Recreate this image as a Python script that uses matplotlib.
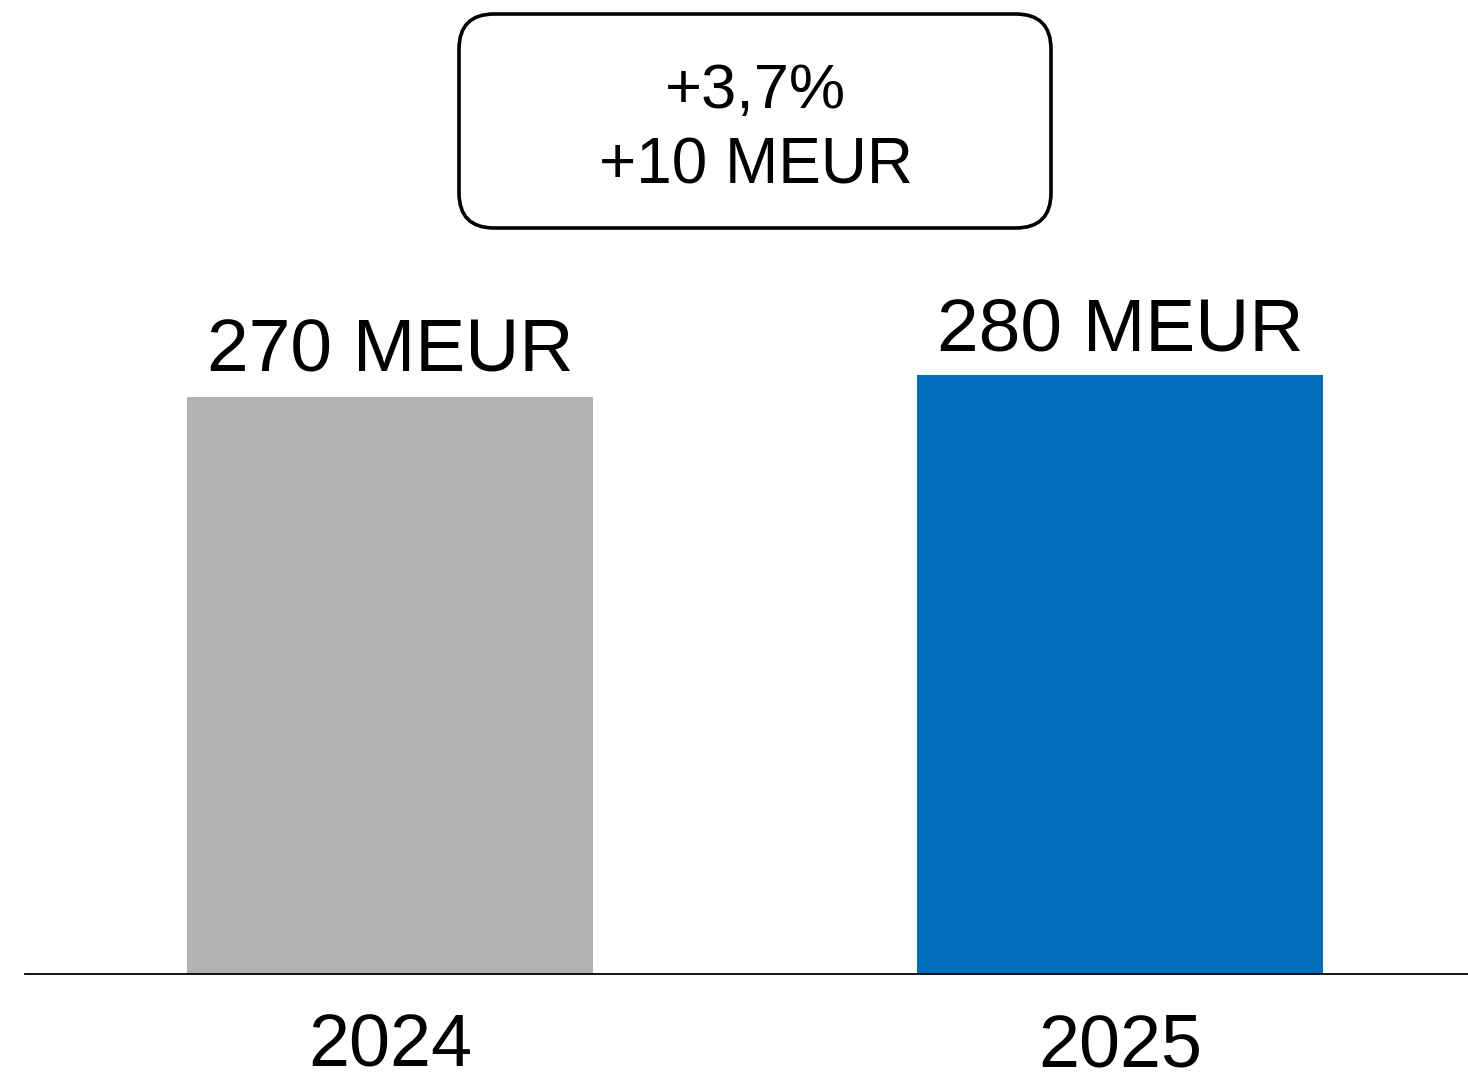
import matplotlib
matplotlib.use("Agg")
import matplotlib.pyplot as plt
from matplotlib.patches import FancyBboxPatch

years = ["2024", "2025"]
values = [270, 280]
value_labels = ["270 MEUR", "280 MEUR"]
colors = ["#B2B2B2", "#006EBA"]
change_lines = ["+3,7%", "+10 MEUR"]

plt.rcParams['font.family'] = ['Liberation Sans', 'DejaVu Sans']

W, H = 1468, 1079
fig = plt.figure(figsize=(W / 100, H / 100), dpi=100)
ax = fig.add_axes([25 / W, (H - 974) / H, (W - 25) / W, 974 / H])

x = list(range(len(years)))
ax.bar(x, values, width=406 / 730, color=colors)
ax.set_xlim(-0.5, 1 + 348 / 730)
ax.set_ylim(0, 974 / 2.138)

for xi, v, lab in zip(x, values, value_labels):
    ax.annotate(lab, (xi, v), xytext=(0, 18), textcoords="offset points",
                ha="center", va="baseline", fontsize=54, color="black")

ax.set_xticks(x)
ax.set_xticklabels(years, fontsize=53)
ax.tick_params(axis="x", length=0, pad=28)
ax.set_yticks([])
for s in ["top", "right", "left"]:
    ax.spines[s].set_visible(False)
ax.spines["bottom"].set_linewidth(1.3)
ax.spines["bottom"].set_color("black")

# change box in figure pixel coordinates
bx0, by0, bx1, by1 = 459, 14, 1051, 228
box = FancyBboxPatch((bx0 / W, 1 - by1 / H), (bx1 - bx0) / W, (by1 - by0) / H,
                     boxstyle="round,pad=0,rounding_size=0.024",
                     transform=fig.transFigure, fill=False,
                     edgecolor="black", linewidth=2.6, mutation_aspect=W / H)
fig.patches.append(box)
fig.text(755 / W, 1 - 108 / H, change_lines[0], ha="center", va="baseline",
         fontsize=45.5, color="black")
fig.text(756 / W, 1 - 183 / H, change_lines[1], ha="center", va="baseline",
         fontsize=46, color="black")

fig.savefig("out.png", dpi=100)
